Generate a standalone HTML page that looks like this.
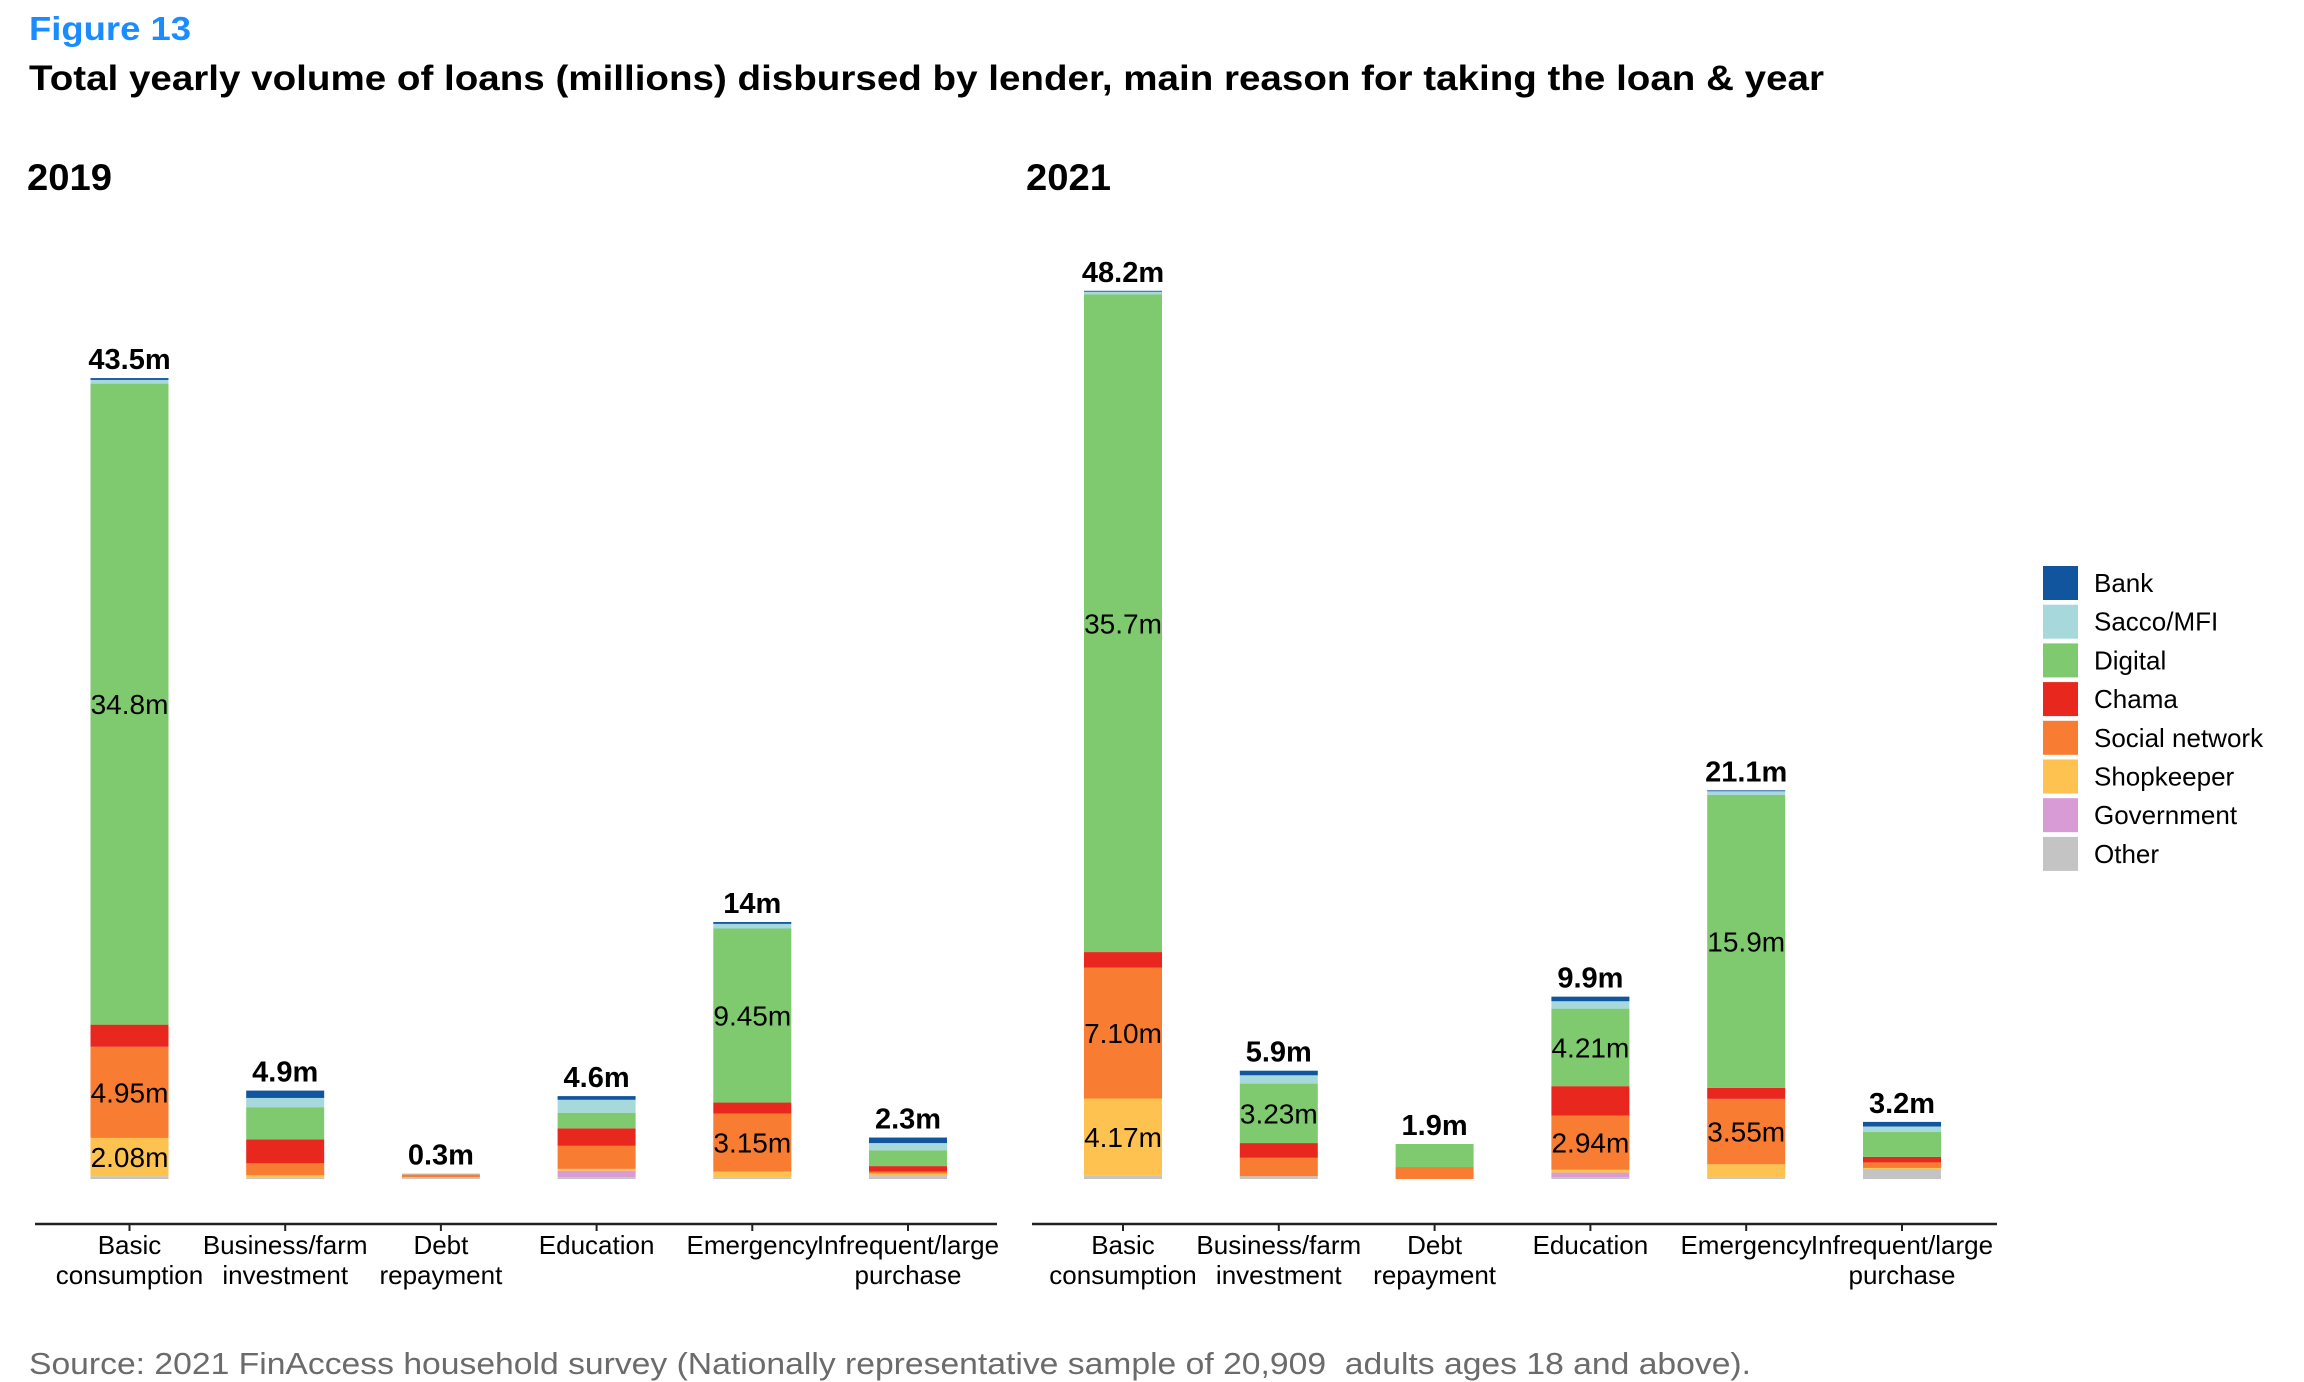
<!DOCTYPE html>
<html><head><meta charset="utf-8"><style>
html,body{margin:0;padding:0;background:#fff;}
svg{display:block;font-family:"Liberation Sans",Arial,sans-serif;}
</style></head><body>
<svg id="chart" width="2304" height="1382" viewBox="0 0 2304 1382">
<text x="29" y="40" font-size="33" font-weight="bold" fill="#1a8cff" textLength="162" lengthAdjust="spacingAndGlyphs">Figure 13</text>
<text x="29" y="90" font-size="35" font-weight="bold" fill="#000" textLength="1795" lengthAdjust="spacingAndGlyphs">Total yearly volume of loans (millions) disbursed by lender, main reason for taking the loan &amp; year</text>
<text x="27" y="190" font-size="37" font-weight="bold" textLength="85" lengthAdjust="spacingAndGlyphs">2019</text>
<text x="1026" y="190" font-size="37" font-weight="bold" textLength="85" lengthAdjust="spacingAndGlyphs">2021</text>
<text x="29" y="1374" font-size="31" fill="#6b6b6b" textLength="1722" lengthAdjust="spacingAndGlyphs" xml:space="preserve">Source: 2021 FinAccess household survey (Nationally representative sample of 20,909  adults ages 18 and above).</text>
<g id="plots"></g>
<g id="legend"></g>
</svg>
<script>
const categories = ["Basic\nconsumption","Business/farm\ninvestment","Debt\nrepayment","Education","Emergency","Infrequent/large\npurchase"];
const lenders = ["Other","Government","Shopkeeper","Social network","Chama","Digital","Sacco/MFI","Bank"];
const colors = ["#c4c4c4","#d99bd6","#fdc24f","#f87c32","#e8271f","#7fc96f","#a7d8dc","#11559f"];
const legendOrder = ["Bank","Sacco/MFI","Digital","Chama","Social network","Shopkeeper","Government","Other"];
const v2019_basic = [0.15,0,2.08,4.95,1.2,34.8,0.2,0.1];
const v2019_business = [0.1,0,0.1,0.65,1.3,1.75,0.5,0.4];
const v2019_debt = [0.05,0,0.05,0.15,0,0,0.05,0];
const v2019_education = [0.1,0.35,0.1,1.25,0.95,0.85,0.7,0.2];
const v2019_emergency = [0.1,0,0.3,3.15,0.6,9.45,0.25,0.1];
const v2019_infrequent = [0.15,0.05,0.1,0.1,0.3,0.85,0.4,0.3];
const v2021_basic = [0.2,0,4.17,7.10,0.85,35.7,0.15,0.05];
const v2021_business = [0.15,0,0,1.0,0.8,3.23,0.45,0.25];
const v2021_debt = [0,0,0,0.65,0,1.25,0,0];
const v2021_education = [0.1,0.25,0.15,2.94,1.6,4.21,0.4,0.25];
const v2021_emergency = [0.1,0,0.7,3.55,0.6,15.9,0.2,0.05];
const v2021_infrequent = [0.55,0,0.05,0.3,0.3,1.35,0.3,0.25];
const totals2019 = ["43.5m","4.9m","0.3m","4.6m","14m","2.3m"];
const totals2021 = ["48.2m","5.9m","1.9m","9.9m","21.1m","3.2m"];

const NS="http://www.w3.org/2000/svg";
const plots=document.getElementById('plots');
const baseY=1179, pxPerM=18.42;
function yScale(v){return baseY - v*pxPerM;}
function mk(tag,attrs,parent){const e=document.createElementNS(NS,tag);for(const k in attrs)e.setAttribute(k,attrs[k]);parent.appendChild(e);return e;}

const panels=[
 {year:"2019",x0:90.5,step:155.7,axis:[35,997],data:[v2019_basic,v2019_business,v2019_debt,v2019_education,v2019_emergency,v2019_infrequent],totals:totals2019},
 {year:"2021",x0:1084,step:155.8,axis:[1032,1997],data:[v2021_basic,v2021_business,v2021_debt,v2021_education,v2021_emergency,v2021_infrequent],totals:totals2021}
];
const barW=78;
panels.forEach(p=>{
  const g=mk('g',{},plots);
  
  
  const ax=mk('line',{x1:p.axis[0],x2:p.axis[1],y1:1224,y2:1224,stroke:'#222','stroke-width':2.5},g);
  
  
  p.data.forEach((vals,i)=>{
    const x=p.x0+i*p.step, cx=x+barW/2;
    let acc=0;
    vals.forEach((v,j)=>{
      if(v<=0)return;
      const r=mk('rect',{x:x,y:yScale(acc+v),width:barW,height:v*pxPerM,fill:colors[j]},g);
      
      
      if(v>=2){
        const t=mk('text',{x:cx,y:yScale(acc+v/2)+10,'font-size':28,'text-anchor':'middle',fill:'#000'},g);
        t.textContent=v.toPrecision(3)+'m';
        
        
      }
      acc+=v;
    });
    const tt=mk('text',{x:cx,y:yScale(acc)-9,'font-size':29,'font-weight':'bold','text-anchor':'middle'},g);
    tt.textContent=p.totals[i];
    
    
    const tk=mk('line',{x1:cx,x2:cx,y1:1224,y2:1231,stroke:'#222','stroke-width':2},g);
    
    
    categories[i].split('\n').forEach((ln,k)=>{
      const t=mk('text',{x:cx,y:1254+k*30,'font-size':26,'text-anchor':'middle'},g);
      t.textContent=ln;
      
      
    });
  });
});
const lg=document.getElementById('legend');


legendOrder.forEach((name,i)=>{
  const j=lenders.indexOf(name);
  const y=566+i*38.7;
  const r=mk('rect',{x:2043,y:y,width:35,height:34,fill:colors[j]},lg);
  
  
  const t=mk('text',{x:2094,y:y+26,'font-size':26},lg);
  t.textContent=name;
  
  
});
</script>
</body></html>
